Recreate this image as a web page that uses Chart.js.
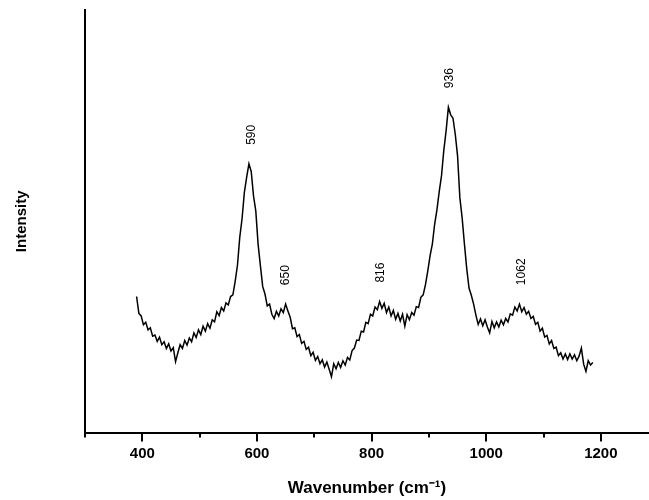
<!DOCTYPE html>
<html>
<head>
<meta charset="utf-8">
<script src="https://cdn.jsdelivr.net/npm/chart.js@4.4.0/dist/chart.umd.min.js"></script>
<style>
  html, body { margin: 0; padding: 0; background: #fff; overflow: hidden; }
  #wrap { width: 649px; height: 500px; position: relative; }
</style>
</head>
<body>
<div id="wrap"><canvas id="c"></canvas></div>
<script>
// Raman spectrum, wavenumber (cm^-1) vs intensity (arbitrary units)
const wavenumbers = [
  390,394,398,402,406,410,414,418,422,426,430,434,438,442,446,450,454,458,462,466,
  470,474,478,482,486,490,494,498,502,506,510,514,518,522,526,530,534,538,542,546,
  550,554,558,562,566,570,574,578,582,586,590,594,598,602,606,610,614,618,622,626,
  630,634,638,642,646,650,654,658,662,666,670,674,678,682,686,690,694,698,702,706,
  710,714,718,722,726,730,734,738,742,746,750,754,758,762,766,770,774,778,782,786,
  790,794,798,802,806,810,814,818,822,826,830,834,838,842,846,850,854,858,862,866,
  870,874,878,882,886,890,894,898,902,906,910,914,918,922,926,930,934,938,942,946,
  950,954,958,962,966,970,974,978,982,986,990,994,998,1002,1006,1010,1014,1018,1022,1026,
  1030,1034,1038,1042,1046,1050,1054,1058,1062,1066,1070,1074,1078,1082,1086,1090,1094,1098,1102,1106,
  1110,1114,1118,1122,1126,1130,1134,1138,1142,1146,1150,1154,1158,1162,1166,1170,1174,1178,1182,1186
];
const intensity = [
  322,282,276,255,261,243,248,228,231,216,226,208,215,199,210,193,201,168,189,208,
  199,218,207,224,215,236,225,243,232,252,240,258,247,267,262,286,277,296,288,307,
  302,322,326,358,396,462,506,568,604,636,618,560,524,446,395,346,328,300,304,280,
  270,287,276,293,284,304,288,273,246,248,227,232,211,216,197,202,182,190,171,180,
  163,172,155,167,150,132,163,151,166,154,170,160,178,172,194,200,219,218,240,238,
  261,258,280,276,297,291,310,294,306,284,297,276,289,268,282,264,280,252,279,267,
  284,278,298,296,320,326,350,382,418,446,493,527,570,608,668,714,770,752,744,706,
  655,556,508,446,388,342,325,304,278,256,269,253,267,250,236,263,248,262,250,266,
  255,270,262,281,278,297,288,304,286,296,280,287,270,275,256,261,240,247,226,230,
  210,218,199,202,182,189,174,186,173,186,174,184,170,181,200,162,145,170,160,166
];
const peakLabels = ['590', '650', '816', '936', '1062'];
const xTickValues = [300, 400, 500, 600, 700, 800, 900, 1000, 1100, 1200];
const xTickLabels = ['', '400', '', '600', '', '800', '', '1000', '', '1200'];

const points = wavenumbers.map((w, i) => ({ x: w, y: intensity[i] }));

const extras = {
  id: 'extras',
  afterDatasetsDraw(chart) {
    const ctx = chart.ctx;
    const xs = chart.scales.x, ys = chart.scales.y;
    const bottom = chart.chartArea.bottom;
    ctx.save();
    ctx.strokeStyle = '#000';
    ctx.lineWidth = 2;
    xTickValues.forEach((v, i) => {
      const px = Math.round(xs.getPixelForValue(v));
      const len = xTickLabels[i] ? 9 : 5;
      ctx.beginPath();
      ctx.moveTo(px, bottom);
      ctx.lineTo(px, bottom + len);
      ctx.stroke();
    });
    ctx.fillStyle = '#000';
    ctx.font = '12px "Liberation Sans", Arial, sans-serif';
    ctx.textAlign = 'left';
    ctx.textBaseline = 'middle';
    peakLabels.forEach(lbl => {
      const w = Number(lbl);
      let maxI = -Infinity;
      wavenumbers.forEach((x, i) => { if (Math.abs(x - w) <= 10 && intensity[i] > maxI) maxI = intensity[i]; });
      const px = xs.getPixelForValue(w);
      const py = ys.getPixelForValue(maxI) - 19;
      ctx.save();
      ctx.translate(px, py);
      ctx.rotate(-Math.PI / 2);
      ctx.fillText(lbl, 0, 0);
      ctx.restore();
    });
    ctx.restore();
  }
};

new Chart(document.getElementById('c'), {
  type: 'line',
  data: {
    datasets: [{
      data: points,
      borderColor: '#000',
      borderWidth: 1.5,
      pointRadius: 0,
      tension: 0,
      fill: false
    }]
  },
  options: {
    responsive: true,
    maintainAspectRatio: false,
    animation: false,
    layout: { padding: { left: 2, top: 10, right: 0, bottom: 0 } },
    plugins: { legend: { display: false }, tooltip: { enabled: false } },
    scales: {
      x: {
        type: 'linear',
        min: 300,
        max: 1284,
        afterBuildTicks(scale) {
          scale.ticks = xTickValues.map(v => ({ value: v }));
        },
        ticks: {
          autoSkip: false,
          maxRotation: 0,
          padding: 12,
          color: '#000',
          font: { family: '"Liberation Sans", Arial, sans-serif', size: 15, weight: 'bold' },
          callback(value) {
            const i = xTickValues.indexOf(value);
            return i >= 0 ? xTickLabels[i] : '';
          }
        },
        grid: { display: false, drawTicks: false },
        border: { display: true, color: '#000', width: 2 },
        title: {
          display: true,
          text: 'Wavenumber (cm⁻¹)',
          color: '#000',
          font: { family: '"Liberation Sans", Arial, sans-serif', size: 17, weight: 'bold' },
          padding: { top: 4, bottom: 1 }
        }
      },
      y: {
        type: 'linear',
        min: 0,
        max: 1000,
        ticks: { display: false },
        grid: { display: false, drawTicks: false },
        border: { display: true, color: '#000', width: 2 },
        title: {
          display: true,
          text: 'Intensity',
          color: '#000',
          font: { family: '"Liberation Sans", Arial, sans-serif', size: 15, weight: 'bold' },
          padding: { top: 11, bottom: 54 }
        }
      }
    }
  },
  plugins: [extras]
});
</script>
</body>
</html>
